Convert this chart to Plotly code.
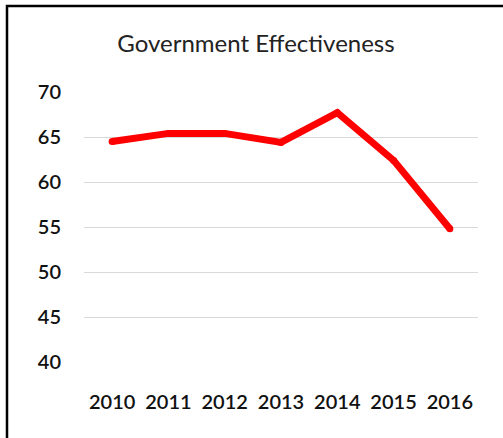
import plotly.graph_objects as go

years = ["2010", "2011", "2012", "2013", "2014", "2015", "2016"]
values = [64.5, 65.4, 65.4, 64.4, 67.7, 62.4, 54.8]
y_ticks = [40, 45, 50, 55, 60, 65, 70]
title_text = "Government Effectiveness"

W, H = 503, 438
L, R, T, B = 84, 25, 92, 76

fig = go.Figure()
fig.add_trace(go.Scatter(
    x=years, y=values, mode="lines+markers",
    line=dict(color="#FF0000", width=7),
    marker=dict(color="#FF0000", size=7, line=dict(width=0)),
    hoverinfo="skip", showlegend=False,
))

pw = W - L - R
ph = H - T - B
fig.update_layout(
    width=W, height=H,
    margin=dict(l=L, r=R, t=T, b=B, pad=0),
    paper_bgcolor="white", plot_bgcolor="white",
    font=dict(family="Lato, Carlito, sans-serif", color="#000000"),
    title=dict(text=title_text, x=256 / W, xanchor="center",
               y=1 - 44 / H, yanchor="middle",
               font=dict(size=24, color="#222222")),
    xaxis=dict(type="category", range=[-0.5, 6.5], showgrid=False,
               showline=False, zeroline=False, ticks="",
               tickfont=dict(size=20, color="#111111", weight=600),
               ticklabelstandoff=26),
    yaxis=dict(range=[40, 70], tickvals=y_ticks, showgrid=True,
               gridcolor="#D9D9D9", gridwidth=1, zeroline=False,
               showline=False, ticks="",
               tickfont=dict(size=20, color="#111111", weight=600),
               ticklabelstandoff=22),
    shapes=[dict(type="rect", xref="paper", yref="paper",
                 x0=(7 - L) / pw, x1=2, y0=-1, y1=(H - B - 6) / ph,
                 line=dict(color="black", width=2.5), layer="above")],
)
fig.write_html("out.html")
